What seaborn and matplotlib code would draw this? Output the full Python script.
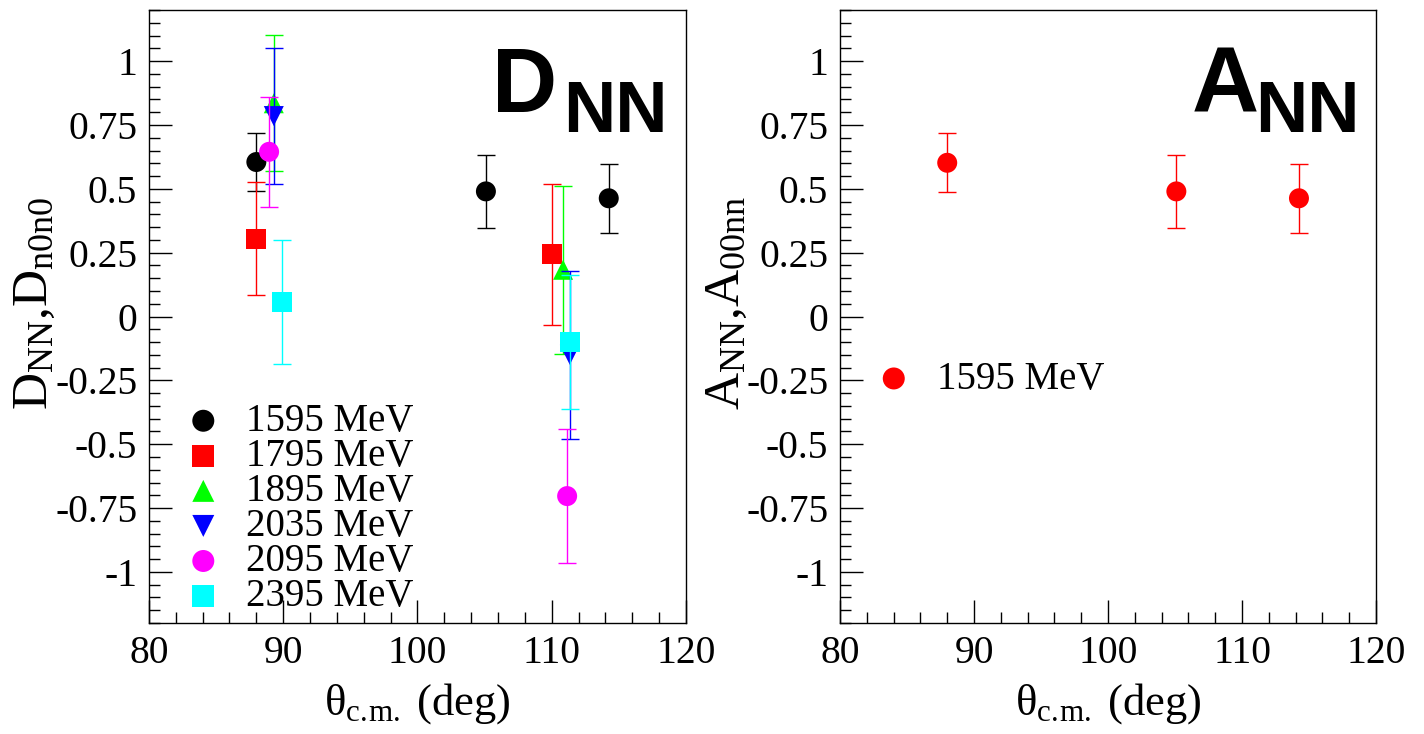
import matplotlib
matplotlib.use("Agg")
import matplotlib.pyplot as plt
import seaborn as sns
from matplotlib.ticker import MultipleLocator, FixedLocator, FixedFormatter

sns.set_theme(style="ticks")
plt.rcParams["font.family"] = ["Liberation Serif", "DejaVu Serif"]
plt.rcParams["mathtext.fontset"] = "custom"
plt.rcParams["mathtext.rm"] = "Liberation Serif"
plt.rcParams["mathtext.it"] = "Liberation Serif:italic"
plt.rcParams["axes.unicode_minus"] = False
for key in ["text.color", "axes.labelcolor", "xtick.color", "ytick.color", "axes.edgecolor"]:
    plt.rcParams[key] = "black"

# ---- spin-correlation data, one set of arrays per beam energy ----
energies = ["1595 MeV", "1795 MeV", "1895 MeV", "2035 MeV", "2095 MeV", "2395 MeV"]

theta_1595 = [88.0, 105.1, 114.25]
dnn_1595 = [0.605, 0.49, 0.463]
err_1595 = [0.115, 0.143, 0.135]

theta_1795 = [88.0, 110.05]
dnn_1795 = [0.305, 0.243]
err_1795 = [0.22, 0.277]

theta_1895 = [89.3, 110.85]
dnn_1895 = [0.835, 0.183]
err_1895 = [0.267, 0.328]

theta_2035 = [89.3, 111.35]
dnn_2035 = [0.785, -0.15]
err_2035 = [0.265, 0.33]

theta_2095 = [88.95, 111.15]
dnn_2095 = [0.645, -0.703]
err_2095 = [0.216, 0.263]

theta_2395 = [89.9, 111.4]
dnn_2395 = [0.058, -0.10]
err_2395 = [0.242, 0.262]

theta_ann = [88.0, 105.1, 114.25]
ann_1595 = [0.602, 0.49, 0.463]
err_ann = [0.115, 0.143, 0.135]

# axis ticks
x_major = [80, 90, 100, 110, 120]
y_major = [-1.0, -0.75, -0.5, -0.25, 0.0, 0.25, 0.5, 0.75, 1.0]
y_labels = ["-1", "-0.75", "-0.5", "-0.25", "0", "0.25", "0.5", "0.75", "1"]

markers = ["o", "s", "^", "v", "o", "s"]
colors = ["#000000", "#ff0000", "#00ff00", "#0000ff", "#ff00ff", "#00ffff"]

dnn_sets = [
    (theta_1595, dnn_1595, err_1595),
    (theta_1795, dnn_1795, err_1795),
    (theta_1895, dnn_1895, err_1895),
    (theta_2035, dnn_2035, err_2035),
    (theta_2095, dnn_2095, err_2095),
    (theta_2395, dnn_2395, err_2395),
]

MS = 207          # marker area (pt^2)
CAP = 6.8         # error-bar cap half-width (pt)
LEG = dict(loc="upper left", frameon=False, fontsize=28, labelspacing=-0.05,
           handletextpad=0.6, handlelength=1.0, borderaxespad=0, borderpad=0,
           markerscale=1.1, scatterpoints=1)

fig = plt.figure(figsize=(14.24, 7.34), dpi=100)
ax1 = fig.add_axes([0.1046, 0.1512, 0.3771, 0.8351])
ax2 = fig.add_axes([0.5899, 0.1512, 0.3764, 0.8351])


def style_axes(ax):
    ax.set_xlim(80, 120)
    ax.set_ylim(-1.2, 1.2)
    ax.xaxis.set_major_locator(FixedLocator(x_major))
    ax.xaxis.set_minor_locator(MultipleLocator(2))
    ax.yaxis.set_major_locator(FixedLocator(y_major))
    ax.yaxis.set_major_formatter(FixedFormatter(y_labels))
    ax.yaxis.set_minor_locator(MultipleLocator(0.05))
    ax.tick_params(which="both", direction="in", top=False, right=False,
                   width=1.0, colors="black", labelsize=28.5, pad=8.5)
    ax.tick_params(which="major", length=16.5)
    ax.tick_params(which="minor", length=8)
    for sp in ax.spines.values():
        sp.set_linewidth(1.0)
        sp.set_color("black")
        sp.set_visible(True)
    ax.set_xlabel(r"θ$_{\mathrm{c.\!m.}}$ (deg)", fontsize=32)
    ax.xaxis.set_label_coords(0.5, -0.095)


# ---- left panel: D_NN ----
for i, ((x, y, e), lab, m, c) in enumerate(zip(dnn_sets, energies, markers, colors)):
    ax1.errorbar(x, y, yerr=e, fmt="none", ecolor=c, elinewidth=1.0,
                 capsize=CAP, capthick=1.0, zorder=2 + 2 * i)
    sns.scatterplot(x=x, y=y, marker=m, color=c, s=MS, edgecolor="none",
                    linewidth=0, ax=ax1, label=lab, zorder=3 + 2 * i)

style_axes(ax1)
ax1.set_ylabel(r"D$_{\mathrm{NN}}$,D$_{\mathrm{n0n0}}$", fontsize=37, va="center")
ax1.yaxis.set_label_coords(-0.212, 0.522)
ax1.legend(bbox_to_anchor=(0.065, 0.359), **LEG)

ax1.text(0.760, 0.834, "D", transform=ax1.transAxes, ha="right", va="baseline",
         fontsize=65, fontweight="bold", family="Liberation Sans", color="black")
ax1.text(0.966, 0.801, "NN", transform=ax1.transAxes, ha="right", va="baseline",
         fontsize=52, fontweight="bold", family="Liberation Sans", color="black")

# ---- right panel: A_NN ----
ax2.errorbar(theta_ann, ann_1595, yerr=err_ann, fmt="none", ecolor="#ff0000",
             elinewidth=1.0, capsize=CAP, capthick=1.0, zorder=2)
sns.scatterplot(x=theta_ann, y=ann_1595, marker="o", color="#ff0000", s=MS,
                edgecolor="none", linewidth=0, ax=ax2, label="1595 MeV", zorder=3)

style_axes(ax2)
ax2.set_ylabel(r"A$_{\mathrm{NN}}$,A$_{\mathrm{00nn}}$", fontsize=37, va="center")
ax2.yaxis.set_label_coords(-0.212, 0.522)
ax2.legend(bbox_to_anchor=(0.064, 0.428), **LEG)

ax2.text(0.782, 0.834, "A", transform=ax2.transAxes, ha="right", va="baseline",
         fontsize=67, fontweight="bold", family="Liberation Sans", color="black")
ax2.text(0.970, 0.801, "NN", transform=ax2.transAxes, ha="right", va="baseline",
         fontsize=52, fontweight="bold", family="Liberation Sans", color="black")

fig.savefig("out.png", dpi=100, facecolor="white")
